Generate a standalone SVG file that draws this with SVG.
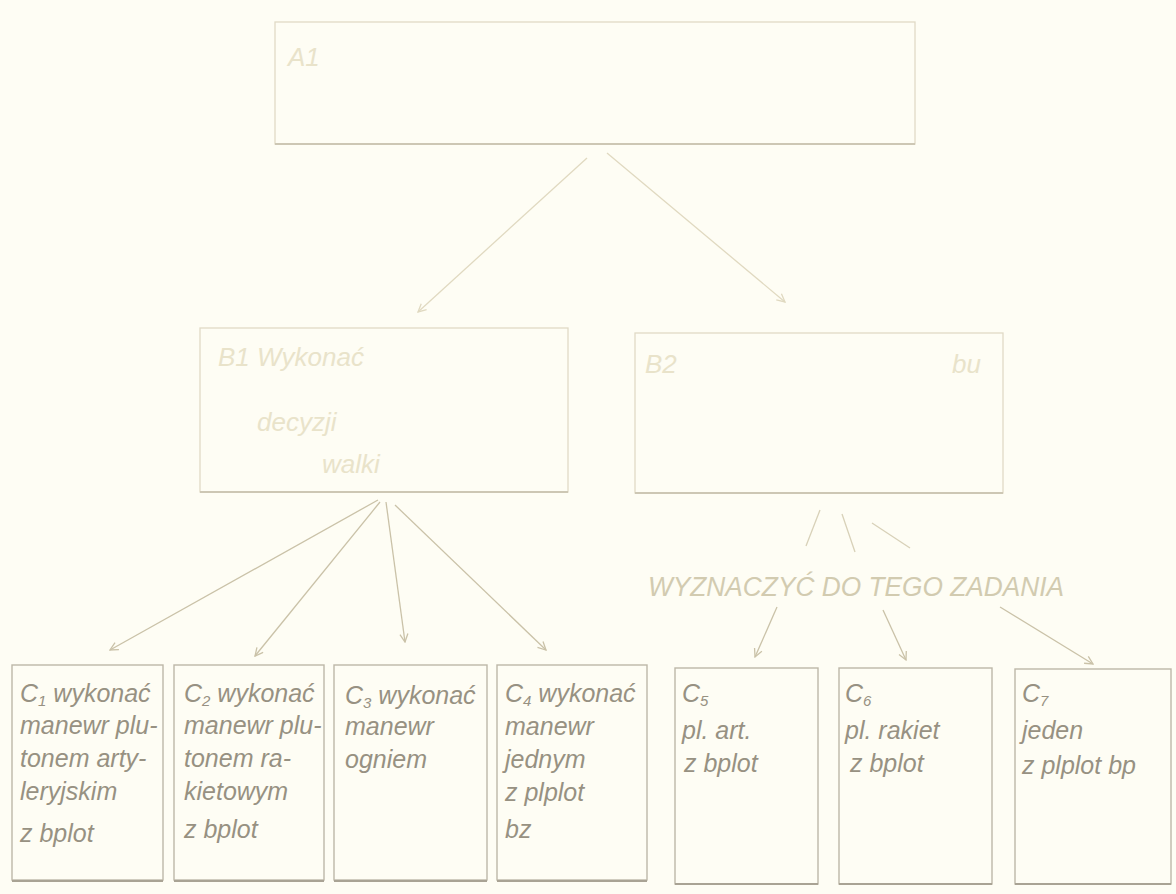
<svg xmlns="http://www.w3.org/2000/svg" width="1176" height="894" viewBox="0 0 1176 894">
<defs>
<style>
.bg{fill:#fefdf4}
.box{fill:none;stroke:#bdb7a8;stroke-width:1.4}
.boxb{fill:none;stroke:#a9a394;stroke-width:2}
.faintbox{fill:none;stroke:#e0dac6;stroke-width:1.3}
.faintboxb{fill:none;stroke:#cdc7b4;stroke-width:2}
.t{font-family:"Liberation Sans",Arial,sans-serif;font-style:italic;font-size:25px;fill:#979182}
.tf{font-family:"Liberation Sans",Arial,sans-serif;font-style:italic;font-size:26px;fill:#e9e3ca}
.lab{font-family:"Liberation Sans",Arial,sans-serif;font-style:italic;font-size:27px;fill:#d2cbb0}
.sub{font-size:15px}
.c{fill:none;stroke:#cac2a8;stroke-width:1.3;marker-end:url(#arr)}
.cf{fill:none;stroke:#e0d9c0;stroke-width:1.3;marker-end:url(#arrf)}
.cn{fill:none;stroke:#d8d1b8;stroke-width:1.3}
</style>
<marker id="arr" viewBox="0 0 10 10" refX="9" refY="5" markerWidth="10" markerHeight="10" orient="auto" markerUnits="userSpaceOnUse">
<path d="M1,1 L9,5 L1,9" fill="none" stroke="#cac2a8" stroke-width="1.3"/>
</marker>
<marker id="arrf" viewBox="0 0 10 10" refX="9" refY="5" markerWidth="10" markerHeight="10" orient="auto" markerUnits="userSpaceOnUse">
<path d="M1,1 L9,5 L1,9" fill="none" stroke="#e0d9c0" stroke-width="1.3"/>
</marker>
</defs>
<rect class="bg" x="0" y="0" width="1176" height="894"/>

<g id="connectors">
<line class="cf" x1="587" y1="158" x2="418" y2="312"/>
<line class="cf" x1="607" y1="153" x2="785" y2="302"/>
<line class="c" x1="378" y1="500" x2="110" y2="650"/>
<line class="c" x1="380" y1="502" x2="255" y2="656"/>
<line class="c" x1="386" y1="502" x2="405" y2="642"/>
<line class="c" x1="395" y1="505" x2="546" y2="650"/>
<line class="cn" x1="820" y1="510" x2="806" y2="546"/>
<line class="cn" x1="842" y1="514" x2="855" y2="552"/>
<line class="cn" x1="872" y1="523" x2="910" y2="548"/>
<line class="c" x1="777" y1="607" x2="755" y2="657"/>
<line class="c" x1="883" y1="610" x2="906" y2="660"/>
<line class="c" x1="1000" y1="607" x2="1093" y2="664"/>
</g>

<g id="A1">
<rect class="faintbox" x="275" y="22" width="640" height="122"/>
<line class="faintboxb" x1="275" y1="144" x2="915" y2="144"/>
<text class="tf" x="288" y="66">A1</text>
</g>

<g id="B1">
<rect class="faintbox" x="200" y="328" width="368" height="164"/>
<line class="faintboxb" x1="200" y1="492" x2="568" y2="492"/>
<text class="tf" x="218" y="366">B1 Wykonać</text>
<text class="tf" x="257" y="431">decyzji</text>
<text class="tf" x="322" y="473">walki</text>
</g>

<g id="B2">
<rect class="faintbox" x="635" y="333" width="368" height="160"/>
<line class="faintboxb" x1="635" y1="493" x2="1003" y2="493"/>
<text class="tf" x="645" y="373">B2</text>
<text class="tf" x="952" y="373">bu</text>
</g>

<g id="label">
<text class="lab" x="648" y="596" textLength="416" lengthAdjust="spacingAndGlyphs">WYZNACZYĆ DO TEGO ZADANIA</text>
</g>

<g id="C1">
<rect class="box" x="12" y="665" width="151" height="215"/>
<line class="boxb" x1="12" y1="881" x2="163" y2="881"/>
<text class="t" x="20" y="702">C<tspan class="sub" dy="4">1</tspan><tspan dy="-4"> wykonać</tspan></text>
<text class="t" x="20" y="734">manewr plu-</text>
<text class="t" x="20" y="767">tonem arty-</text>
<text class="t" x="20" y="800">leryjskim</text>
<text class="t" x="20" y="842">z bplot</text>
</g>

<g id="C2">
<rect class="box" x="174" y="665" width="150" height="215"/>
<line class="boxb" x1="174" y1="881" x2="324" y2="881"/>
<text class="t" x="184" y="702">C<tspan class="sub" dy="4">2</tspan><tspan dy="-4"> wykonać</tspan></text>
<text class="t" x="184" y="734">manewr plu-</text>
<text class="t" x="184" y="767">tonem ra-</text>
<text class="t" x="184" y="800">kietowym</text>
<text class="t" x="184" y="838">z bplot</text>
</g>

<g id="C3">
<rect class="box" x="334" y="665" width="153" height="215"/>
<line class="boxb" x1="334" y1="881" x2="487" y2="881"/>
<text class="t" x="345" y="704">C<tspan class="sub" dy="4">3</tspan><tspan dy="-4"> wykonać</tspan></text>
<text class="t" x="345" y="735">manewr</text>
<text class="t" x="345" y="768">ogniem</text>
</g>

<g id="C4">
<rect class="box" x="497" y="665" width="150" height="215"/>
<line class="boxb" x1="497" y1="881" x2="647" y2="881"/>
<text class="t" x="505" y="702">C<tspan class="sub" dy="4">4</tspan><tspan dy="-4"> wykonać</tspan></text>
<text class="t" x="505" y="735">manewr</text>
<text class="t" x="505" y="768">jednym</text>
<text class="t" x="505" y="801">z plplot</text>
<text class="t" x="505" y="838">bz</text>
</g>

<g id="C5">
<rect class="box" x="675" y="668" width="143" height="216"/>
<line class="boxb" x1="675" y1="884" x2="818" y2="884"/>
<text class="t" x="682" y="702">C<tspan class="sub" dy="4">5</tspan></text>
<text class="t" x="682" y="739">pl. art.</text>
<text class="t" x="684" y="772">z bplot</text>
</g>

<g id="C6">
<rect class="box" x="839" y="668" width="153" height="216"/>
<line class="boxb" x1="839" y1="884" x2="992" y2="884"/>
<text class="t" x="845" y="702">C<tspan class="sub" dy="4">6</tspan></text>
<text class="t" x="845" y="739">pl. rakiet</text>
<text class="t" x="850" y="772">z bplot</text>
</g>

<g id="C7">
<rect class="box" x="1015" y="669" width="156" height="215"/>
<line class="boxb" x1="1015" y1="884" x2="1171" y2="884"/>
<text class="t" x="1022" y="702">C<tspan class="sub" dy="4">7</tspan></text>
<text class="t" x="1022" y="739">jeden</text>
<text class="t" x="1022" y="774">z plplot bp</text>
</g>
</svg>
